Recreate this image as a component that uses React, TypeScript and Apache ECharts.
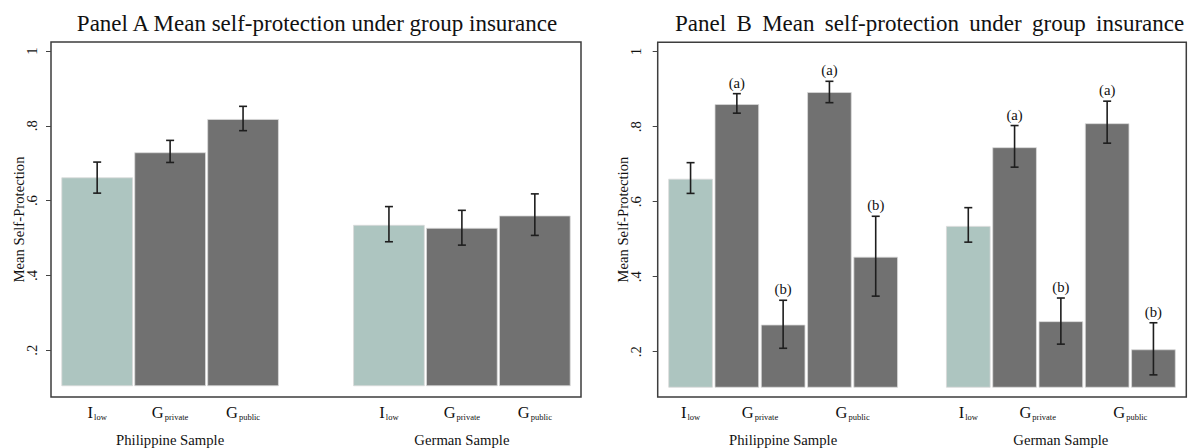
import React, { useEffect, useRef } from "react";
import * as echarts from "echarts";

const FONT = '"Liberation Serif", "Times New Roman", serif';

// ---------- data ----------
const groupNames = ["Philippine Sample", "German Sample"];

// Panel A: I_low, G_private, G_public
const conditionsA = ["I_low", "G_private", "G_public"];
const philA_mean = [0.661, 0.728, 0.817];
const philA_lo = [0.62, 0.702, 0.787];
const philA_hi = [0.703, 0.761, 0.852];
const gerA_mean = [0.534, 0.526, 0.559];
const gerA_lo = [0.49, 0.481, 0.507];
const gerA_hi = [0.584, 0.574, 0.618];

// Panel B: I_low, G_private(a), G_private(b), G_public(a), G_public(b)
const conditionsB = ["I_low", "G_private", "G_private", "G_public", "G_public"];
const marksB = ["", "(a)", "(b)", "(a)", "(b)"];
const philB_mean = [0.66, 0.859, 0.271, 0.891, 0.452];
const philB_lo = [0.622, 0.836, 0.209, 0.864, 0.348];
const philB_hi = [0.704, 0.888, 0.337, 0.921, 0.561];
const gerB_mean = [0.534, 0.744, 0.28, 0.808, 0.205];
const gerB_lo = [0.492, 0.692, 0.22, 0.756, 0.138];
const gerB_hi = [0.584, 0.803, 0.343, 0.868, 0.277];

// x-axis tick labels
const tickLabelsA = ["I_low", "G_private", "G_public", "I_low", "G_private", "G_public"];
const tickLabelsB = ["I_low", "G_private", "G_public", "I_low", "G_private", "G_public"];
const yTicks = [0.2, 0.4, 0.6, 0.8, 1];

// ---------- layout constants ----------
const BAR_BASE = 0.105;
const SLOT_GAP = 1; // one empty slot between the two samples
const COLORS = { control: "#adc5c0", group: "#717171" };

type Row = { slot: number; mean: number; lo: number; hi: number; mark: string; ctrl: boolean };

function buildRows(
  groups: { mean: number[]; lo: number[]; hi: number[] }[],
  conds: string[],
  marks: string[]
): Row[] {
  const rows: Row[] = [];
  const n = conds.length;
  groups.forEach((g, gi) => {
    g.mean.forEach((m, i) => {
      rows.push({
        slot: gi * (n + SLOT_GAP) + i,
        mean: m,
        lo: g.lo[i],
        hi: g.hi[i],
        mark: marks[i] || "",
        ctrl: conds[i] === "I_low",
      });
    });
  });
  return rows;
}

const rowsA = buildRows(
  [
    { mean: philA_mean, lo: philA_lo, hi: philA_hi },
    { mean: gerA_mean, lo: gerA_lo, hi: gerA_hi },
  ],
  conditionsA,
  []
);
const rowsB = buildRows(
  [
    { mean: philB_mean, lo: philB_lo, hi: philB_hi },
    { mean: gerB_mean, lo: gerB_lo, hi: gerB_hi },
  ],
  conditionsB,
  marksB
);

function tickPositions(conds: string[]): number[] {
  const pos: number[] = [];
  const n = conds.length;
  const distinct: string[] = [];
  conds.forEach((c) => {
    if (distinct.indexOf(c) < 0) distinct.push(c);
  });
  [0, 1].forEach((gi) => {
    distinct.forEach((c) => {
      const idx = conds.map((cc, i) => (cc === c ? i : -1)).filter((i) => i >= 0);
      const avg = idx.reduce((s, i) => s + i, 0) / idx.length;
      pos.push(gi * (n + SLOT_GAP) + avg);
    });
  });
  return pos;
}
const posA = tickPositions(conditionsA);
const posB = tickPositions(conditionsB);
const groupPosA = [0, 1].map((gi) => gi * (conditionsA.length + SLOT_GAP) + (conditionsA.length - 1) / 2);
const groupPosB = [0, 1].map((gi) => gi * (conditionsB.length + SLOT_GAP) + (conditionsB.length - 1) / 2);

function richName(name: string): string {
  const [main, sub] = name.split("_");
  return `{m|${main}}{s|${sub}}`;
}

const tickRich = {
  m: { fontFamily: FONT, fontSize: 16.5, color: "#111", verticalAlign: "bottom", lineHeight: 19 },
  s: { fontFamily: FONT, fontSize: 8.5, color: "#111", verticalAlign: "bottom", lineHeight: 18, padding: [0, 0, 0, 1] },
};

function lookupFormatter(positions: number[], labels: string[], rich: boolean) {
  return (v: number) => {
    for (let i = 0; i < positions.length; i++) {
      if (Math.abs(positions[i] - v) < 1e-6) return rich ? richName(labels[i]) : labels[i];
    }
    return "";
  };
}

function renderBars(rows: Row[], widthRatio: number) {
  return (params: any, api: any) => {
    const r = rows[params.dataIndex];
    const step = api.size([1, 0])[0];
    const w = step * widthRatio;
    const top = api.coord([r.slot, r.mean]);
    const bot = api.coord([r.slot, BAR_BASE]);
    const pHi = api.coord([r.slot, r.hi]);
    const pLo = api.coord([r.slot, r.lo]);
    const cx = top[0];
    const cap = 4;
    const errStyle = { stroke: "#1e1e1e", lineWidth: 1.6 };
    const children: any[] = [
      {
        type: "rect",
        shape: { x: cx - w / 2, y: top[1], width: w, height: bot[1] - top[1] },
        style: { fill: r.ctrl ? COLORS.control : COLORS.group, stroke: "#d9d9d9", lineWidth: 0.8 },
      },
      { type: "line", shape: { x1: cx, y1: pHi[1], x2: cx, y2: pLo[1] }, style: errStyle },
      { type: "line", shape: { x1: cx - cap, y1: pHi[1], x2: cx + cap, y2: pHi[1] }, style: errStyle },
      { type: "line", shape: { x1: cx - cap, y1: pLo[1], x2: cx + cap, y2: pLo[1] }, style: errStyle },
    ];
    if (r.mark) {
      children.push({
        type: "text",
        x: cx,
        y: pHi[1] - 11,
        style: {
          text: r.mark,
          fontFamily: FONT,
          fontSize: 14.7,
          fill: "#111",
          align: "center",
          verticalAlign: "middle",
        },
      });
    }
    return { type: "group", children };
  };
}

function yAxisFor(gridIndex: number, min: number, max: number, labelMargin: number, nameGap: number) {
  return {
    gridIndex,
    type: "value",
    min,
    max,
    name: "Mean Self-Protection",
    nameLocation: "middle",
    nameGap,
    nameMoveOverlap: false,
    nameTextStyle: { fontFamily: FONT, fontSize: 14.7, color: "#111" },
    axisLine: { show: false, onZero: false },
    splitLine: { show: false },
    axisTick: { show: true, inside: false, length: 5, customValues: yTicks, lineStyle: { color: "#444", width: 1 } },
    axisLabel: {
      customValues: yTicks,
      rotate: 90,
      margin: labelMargin,
      fontFamily: FONT,
      fontSize: 14.7,
      color: "#111",
      formatter: (v: number) => (v >= 0.999 ? "1" : "." + Math.round(v * 10)),
    },
  };
}

function xAxesFor(gridIndex: number, min: number, max: number, pos: number[], labels: string[], gpos: number[]) {
  const base = {
    gridIndex,
    type: "value",
    min,
    max,
    position: "bottom",
    axisLine: { show: false, onZero: false },
    axisTick: { show: false },
    splitLine: { show: false },
  };
  return [
    {
      ...base,
      axisLabel: {
        customValues: pos,
        margin: 5,
        fontFamily: FONT,
        fontSize: 16.5,
        color: "#111",
        formatter: lookupFormatter(pos, labels, true),
        rich: tickRich,
      },
    },
    {
      ...base,
      axisLabel: {
        customValues: gpos,
        margin: 35,
        fontFamily: FONT,
        fontSize: 14.7,
        color: "#111",
        formatter: lookupFormatter(gpos, groupNames, false),
      },
    },
  ];
}

export default function App() {
  const ref = useRef<HTMLDivElement>(null);
  useEffect(() => {
    if (!ref.current) return;
    const chart = echarts.init(ref.current, undefined, { renderer: "svg" });
    const gridStyle = { show: true, borderColor: "#3d3d3d", borderWidth: 1.5, backgroundColor: "transparent" };
    const option: any = {
      animation: false,
      backgroundColor: "#ffffff",
      graphic: [
        {
          type: "text",
          x: 317,
          y: 23,
          style: {
            text: "Panel A Mean self-protection under group insurance",
            fontFamily: FONT,
            fontSize: 23,
            fill: "#111",
            align: "center",
            verticalAlign: "middle",
          },
        },
        {
          type: "text",
          x: 675,
          y: 23,
          style: {
            text: "Panel\u2009 B\u2009 Mean\u2009 self-protection\u2009 under\u2009 group\u2009 insurance",
            fontFamily: FONT,
            fontSize: 23,
            fill: "#111",
            align: "left",
            verticalAlign: "middle",
          },
        },
      ],
      grid: [
        { ...gridStyle, left: 51, top: 42, width: 530, height: 355 },
        { ...gridStyle, left: 657.7, top: 42.3, width: 528.6, height: 354.7 },
      ],
      xAxis: [
        ...xAxesFor(0, -0.633, 6.633, posA, tickLabelsA, groupPosA),
        ...xAxesFor(1, -0.71, 10.71, posB, tickLabelsB, groupPosB),
      ],
      yAxis: [yAxisFor(0, 0.075, 1.024, 12, 25), yAxisFor(1, 0.079, 1.025, 14, 27)],
      series: [
        {
          type: "custom",
          xAxisIndex: 0,
          yAxisIndex: 0,
          clip: false,
          data: rowsA.map((r) => [r.slot, r.mean, r.lo, r.hi]),
          encode: { x: 0, y: [1, 2, 3] },
          renderItem: renderBars(rowsA, 0.97),
        },
        {
          type: "custom",
          xAxisIndex: 2,
          yAxisIndex: 1,
          clip: false,
          data: rowsB.map((r) => [r.slot, r.mean, r.lo, r.hi]),
          encode: { x: 0, y: [1, 2, 3] },
          renderItem: renderBars(rowsB, 0.944),
        },
      ],
    };
    chart.setOption(option);
    return () => chart.dispose();
  }, []);
  return (
    <div
      ref={ref}
      style={{ position: "fixed", left: 0, top: 0, width: 1190, height: 448, background: "#fff" }}
    />
  );
}
